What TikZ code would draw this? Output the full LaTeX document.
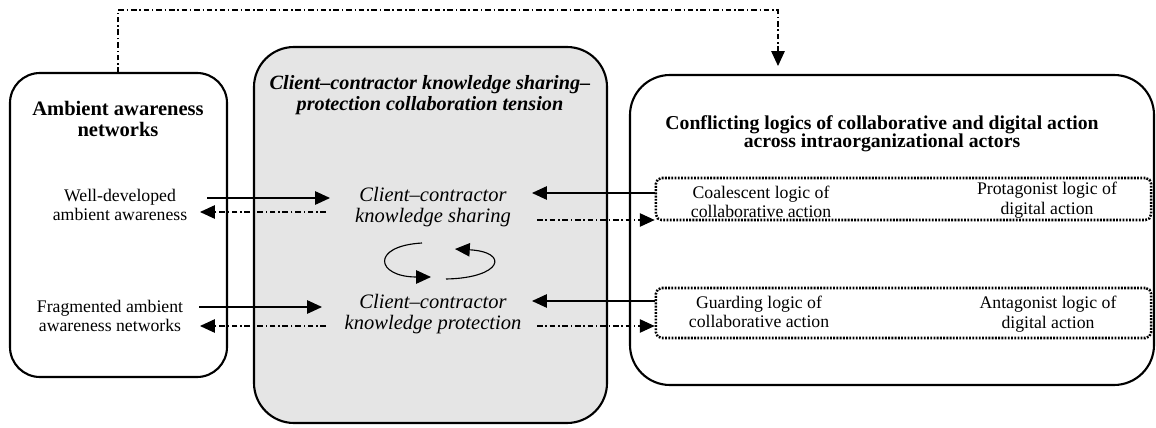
\documentclass[tikz,border=0pt]{standalone}
\usepackage{fontspec}
\setmainfont{Liberation Serif}
\usetikzlibrary{arrows.meta}

\tikzset{
  panel/.style={draw, line width=1.5pt},
  txt/.style={align=center, inner sep=1pt, font=\fontsize{12.6}{14}\selectfont},
  head/.style={align=center, inner sep=1pt, font=\fontsize{14.6}{15.5}\selectfont\bfseries},
  logicbox/.style={draw, line width=1.8pt, dash pattern=on 1.3pt off 1pt, rounded corners=4pt, minimum width=12.375cm},
  flow/.style={-{Triangle[length=10.5pt,width=9.5pt]}, line width=0.8pt},
  back/.style={flow, dash pattern=on 4pt off 2pt on 1pt off 2pt},
}

\begin{document}
\begin{tikzpicture}[x=0.025cm, y=-0.025cm]
        \useasboundingbox (0,0) rectangle (1156,427);

        % the three panels
        \draw [panel, rounded corners=0.75cm] (10,73) rectangle (227,377);
        \draw [panel, fill=gray!20, rounded corners=1cm] (254,47) rectangle (607,423);
        \draw [panel, rounded corners=1cm] (630,75) rectangle (1154,385);

        % panel headings
        \node [head] (ambHead) at (118,119) {Ambient awareness\\networks};
        \node [head, font=\fontsize{14.4}{14.5}\selectfont\bfseries\itshape] (tension) at (430,95)
            {Client--contractor knowledge sharing--\\protection collaboration tension};
        \node [head, font=\fontsize{14}{13}\selectfont\bfseries] (logicHead) at (882,134)
            {Conflicting logics of collaborative and digital action\\across intraorganizational actors};

        % left panel
        \node [txt] (well) at (120,205) {Well-developed\\ambient awareness};
        \node [txt] (frag) at (110,316) {Fragmented ambient\\awareness networks};

        % middle panel
        \node [txt, font=\fontsize{14.6}{15.5}\selectfont\itshape] (share) at (433,207)
            {Client--contractor\\knowledge sharing};
        \node [txt, font=\fontsize{14.6}{15.5}\selectfont\itshape] (protect) at (433,314)
            {Client--contractor\\knowledge protection};

        % right panel
        \node [logicbox, minimum height=1.05cm] (logicA) at (903.5,199) {};
        \node [logicbox, minimum height=1.25cm] (logicB) at (903.5,313) {};
        \node [txt] (coal) at (761,202) {Coalescent logic of\\collaborative action};
        \node [txt] (protag) at (1047,200) {Protagonist logic of\\digital action};
        \node [txt] (guard) at (759,312) {Guarding logic of\\collaborative action};
        \node [txt] (antag) at (1048,314) {Antagonist logic of\\digital action};

        % arrow end points
        \coordinate (wellOut) at (207,198);
        \coordinate (wellIn) at (200,212);
        \coordinate (fragOut) at (199,307);
        \coordinate (fragIn) at (200,326);
        \coordinate (shareIn) at (330,198);
        \coordinate (shareBack) at (326,212);
        \coordinate (shareRight) at (532,193);
        \coordinate (shareOut) at (537,220);
        \coordinate (protectIn) at (322,307);
        \coordinate (protectBack) at (326,326);
        \coordinate (protectRight) at (532,301);
        \coordinate (protectOut) at (537,326);
        \coordinate (loopTop) at (118,73);
        \coordinate (loopEnd) at (778,66);

        % ambient awareness <-> knowledge sharing / protection
        \draw [flow] (wellOut) -- (shareIn);
        \draw [back] (shareBack) -- (wellIn);
        \draw [flow] (fragOut) -- (protectIn);
        \draw [back] (protectBack) -- (fragIn);

        % logics of action <-> knowledge sharing / protection
        \draw [flow] (logicA.west |- shareRight) -- (shareRight);
        \draw [back] (shareOut) -- (logicA.west |- shareOut);
        \draw [flow] (logicB.west |- protectRight) -- (protectRight);
        \draw [back] (protectOut) -- (logicB.west |- protectOut);

        % sharing-protection cycle
        \draw [flow] (422,243) .. controls (370,246) and (376,277) .. (431,277);
        \draw [flow] (446,279) .. controls (502,278) and (510,252) .. (455,249);

        % feedback loop over the top
        \draw [back] (loopTop) -- (118,10) -- (778,10) -- (loopEnd);
    \end{tikzpicture}
\end{document}
